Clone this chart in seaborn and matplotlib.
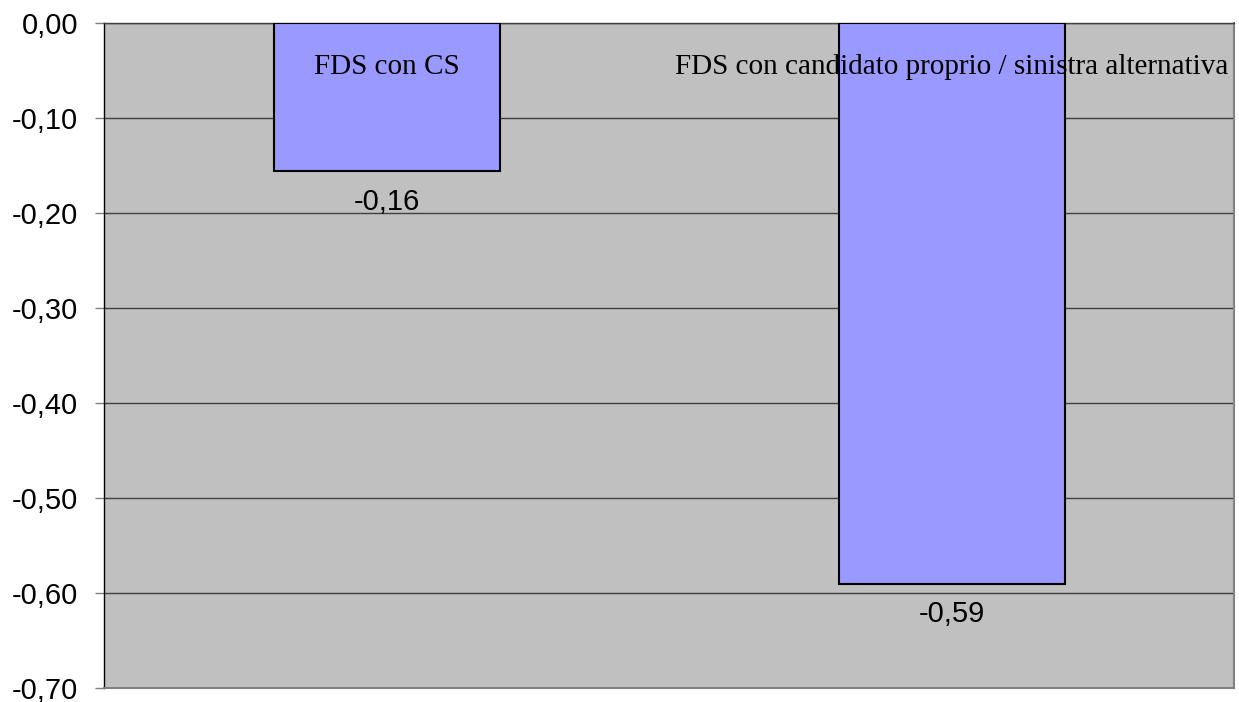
import matplotlib
matplotlib.use("Agg")
import matplotlib.pyplot as plt
import matplotlib.transforms as mtransforms
import seaborn as sns
import pandas as pd

categories = ["FDS con CS", "FDS con candidato proprio / sinistra alternativa"]
values = [-0.156, -0.59]
value_labels = ["-0,16", "-0,59"]
yticks = [0.0, -0.1, -0.2, -0.3, -0.4, -0.5, -0.6, -0.7]

sns.set_theme(style="white")
plt.rcParams["font.family"] = ["Liberation Sans", "DejaVu Sans"]
plt.rcParams["text.color"] = "black"
plt.rcParams["ytick.color"] = "black"
plt.rcParams["ytick.labelcolor"] = "black"

df = pd.DataFrame({"cat": categories, "val": values})

fig = plt.figure(figsize=(12.39, 7.02), dpi=100)
ax = fig.add_axes([104 / 1239, 1 - 688 / 702, (1234 - 104) / 1239, (688 - 23) / 702])
ax.set_facecolor("#C0C0C0")

sns.barplot(data=df, x="cat", y="val", ax=ax, color="#9999FF", saturation=1,
            width=0.4, edgecolor="black", linewidth=1.5, zorder=3)

ax.set_ylim(-0.7, 0.0)
ax.set_xlim(-0.5, 1.5)
ax.set_yticks(yticks)
ax.set_yticklabels([f"{t:.2f}".replace(".", ",") for t in yticks], fontsize=21,
                   color="black")
ax.yaxis.grid(True, color="#404040", linewidth=1.0, zorder=1)
ax.set_axisbelow(True)
ax.tick_params(axis="y", which="major", length=6.5, width=1, color="#808080",
               pad=12, left=True, labelcolor="black")
ax.tick_params(axis="x", length=0)
ax.set_xticklabels([])
ax.set_xlabel("")
ax.set_ylabel("")

for side in ["right", "bottom"]:
    ax.spines[side].set_color("#808080")
    ax.spines[side].set_linewidth(1.5)
ax.spines["top"].set_color("#404040")
ax.spines["top"].set_linewidth(1.0)
ax.spines["left"].set_color("black")
ax.spines["left"].set_linewidth(1.0)

trans = mtransforms.blended_transform_factory(ax.transData, ax.transAxes)
for i, (c, v, lab) in enumerate(zip(categories, values, value_labels)):
    ax.text(i, 1 - (67 - 23) / 665, c, transform=trans, ha="center", va="center",
            fontsize=21, color="black", family=["Liberation Serif", "DejaVu Serif"],
            zorder=5)
    ax.annotate(lab, xy=(i, v), xytext=(0, -22), textcoords="offset points",
                ha="center", va="center", fontsize=21, color="black", zorder=5)

fig.savefig("out.png", dpi=100)
